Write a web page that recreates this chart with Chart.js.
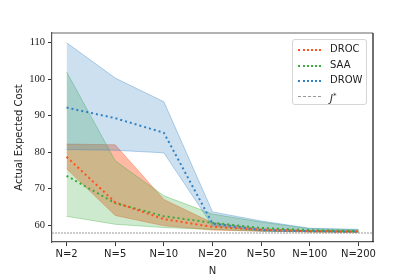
<!DOCTYPE html>
<html>
<head>
<meta charset="utf-8">
<script src="https://cdn.jsdelivr.net/npm/chart.js@4"></script>
<style>
  html, body { margin: 0; padding: 0; background: #fff; }
  #wrap { position: relative; width: 415px; height: 277px; }
  #legend {
    position: absolute; left: 292px; top: 39px; width: 75px; height: 66px;
    box-sizing: border-box; border: 1px solid #d6d6d6; border-radius: 3px;
    background: rgba(255,255,255,0.85);
    font-family: "DejaVu Sans", sans-serif; font-size: 10px; color: #222;
  }
  .row { position: absolute; left: 0; height: 12px; line-height: 12px; }
  .sample { position: absolute; left: 5px; top: 6px; width: 23px; height: 0; }
  .lbl { position: absolute; left: 37px; top: 0; white-space: nowrap; }
</style>
</head>
<body>
<div id="wrap">
  <canvas id="chart" width="415" height="277"></canvas>
  <div id="legend"></div>
</div>
<script>
const labels = ['N=2', 'N=5', 'N=10', 'N=20', 'N=50', 'N=100', 'N=200'];
const yTicks = [60, 70, 80, 90, 100, 110];

const drocMean  = [78.7, 66.2, 61.6, 59.5, 58.7, 58.3, 58.2];
const drocUpper = [82.2, 82.0, 67.0, 60.6, 59.0, 58.5, 58.3];
const drocLower = [75.4, 62.6, 59.8, 58.6, 58.3, 58.1, 58.0];

const saaMean  = [73.5, 66.0, 62.4, 60.6, 59.2, 58.6, 58.3];
const saaUpper = [102.0, 77.6, 68.0, 63.0, 60.8, 59.0, 58.7];
const saaLower = [62.4, 60.2, 59.3, 58.8, 58.3, 58.1, 58.0];

const drowMean  = [92.2, 89.3, 85.3, 60.4, 58.6, 58.3, 58.2];
const drowUpper = [110.0, 100.3, 93.8, 63.6, 61.1, 59.1, 58.8];
const drowLower = [80.7, 80.5, 79.8, 59.8, 58.4, 58.2, 58.1];

const jStar = 57.8;

const C_DROC = '255,80,30';
const C_SAA = '60,170,60';
const C_DROW = '50,130,195';

function pts(arr) { return arr.map((v, i) => ({ x: i, y: v })); }

// upper edge + lower edge filled back to it; higher order = drawn further below
function band(upper, lower, rgb, alpha, order) {
    return [
        { data: pts(upper), borderColor: `rgba(${rgb},0.45)`, borderWidth: 0.8, pointRadius: 0,
          fill: false, tension: 0, order: order },
        { data: pts(lower), borderColor: `rgba(${rgb},0.45)`, borderWidth: 0.8, pointRadius: 0,
          fill: '-1', backgroundColor: `rgba(${rgb},${alpha})`, tension: 0, order: order }
    ];
}

function meanLine(arr, rgb) {
    return { data: pts(arr), borderColor: `rgb(${rgb})`, borderWidth: 2, borderDash: [2, 3],
             pointRadius: 0, fill: false, tension: 0, order: 0 };
}

const legendItems = [
    { name: 'DROC', color: `rgb(${C_DROC})`, style: 'dotted', w: 2 },
    { name: 'SAA', color: `rgb(${C_SAA})`, style: 'dotted', w: 2 },
    { name: 'DROW', color: `rgb(${C_DROW})`, style: 'dotted', w: 2 },
    { name: '<i>J</i><sup style="font-size:7px">*</sup>', color: '#999', style: 'dashed', w: 1 }
];

// plugin: J* reference line + top/right spines
const extras = {
    id: 'extras',
    beforeDatasetsDraw(chart) {
        const { ctx, chartArea: a, scales } = chart;
        const y = scales.y.getPixelForValue(jStar);
        ctx.save();
        ctx.strokeStyle = '#9a9a9a';
        ctx.lineWidth = 1;
        ctx.setLineDash([2, 1]);
        ctx.beginPath();
        ctx.moveTo(a.left, y);
        ctx.lineTo(a.right, y);
        ctx.stroke();
        ctx.restore();
    },
    afterDraw(chart) {
        const { ctx, chartArea: a } = chart;
        ctx.save();
        ctx.lineWidth = 1.2;
        ctx.strokeStyle = '#666';
        ctx.beginPath();
        ctx.moveTo(a.left, a.top);
        ctx.lineTo(a.right, a.top);
        ctx.stroke();
        ctx.strokeStyle = '#111';
        ctx.beginPath();
        ctx.moveTo(a.right, a.top);
        ctx.lineTo(a.right, a.bottom);
        ctx.stroke();
        ctx.restore();
    }
};

document.addEventListener('DOMContentLoaded', function () {
    const legend = document.getElementById('legend');
    legendItems.forEach((it, i) => {
        const row = document.createElement('div');
        row.className = 'row';
        row.style.top = (3 + i * 15.7) + 'px';
        row.style.width = '100%';
        row.innerHTML = `<div class="sample" style="border-top:${it.w}px ${it.style} ${it.color}"></div><div class="lbl">${it.name}</div>`;
        legend.appendChild(row);
    });

    const ctx = document.getElementById('chart').getContext('2d');
    new Chart(ctx, {
        type: 'line',
        data: {
            datasets: [
                ...band(drocUpper, drocLower, C_DROC, 0.4, 3),
                ...band(saaUpper, saaLower, C_SAA, 0.25, 2),
                ...band(drowUpper, drowLower, C_DROW, 0.25, 1),
                meanLine(drocMean, C_DROC),
                meanLine(saaMean, C_SAA),
                meanLine(drowMean, C_DROW)
            ]
        },
        options: {
            responsive: false,
            animation: false,
            layout: { padding: { top: 33, right: 42, left: 0, bottom: 0 } },
            plugins: { legend: { display: false }, tooltip: { enabled: false } },
            scales: {
                x: {
                    type: 'linear',
                    min: -0.3,
                    max: labels.length - 1 + 0.3,
                    afterBuildTicks: s => { s.ticks = labels.map((_, i) => ({ value: i })); },
                    afterFit: s => { s.height = 35; },
                    ticks: {
                        callback: v => labels[v],
                        color: '#222',
                        font: { family: 'DejaVu Sans', size: 10 },
                        padding: 2,
                        maxRotation: 0
                    },
                    grid: { drawOnChartArea: false, drawTicks: true, tickLength: 4, color: '#333' },
                    border: { color: '#555', width: 1.2 },
                    title: { display: true, text: 'N', color: '#222',
                             font: { family: 'DejaVu Sans', size: 10 }, padding: { top: 0, bottom: 0 } }
                },
                y: {
                    min: 55.34,
                    max: 112.66,
                    afterBuildTicks: s => { s.ticks = yTicks.map(v => ({ value: v })); },
                    afterFit: s => { s.width = 52; },
                    ticks: {
                        color: '#222',
                        font: { family: 'Liberation Serif', size: 10.5 },
                        padding: 3
                    },
                    grid: { drawOnChartArea: false, drawTicks: true, tickLength: 4, color: '#333' },
                    border: { color: '#555', width: 1.2 },
                    title: { display: true, text: 'Actual Expected Cost', color: '#222',
                             font: { family: 'DejaVu Sans', size: 10 }, padding: { top: 13, bottom: 0 } }
                }
            }
        },
        plugins: [extras]
    });
});
</script>
</body>
</html>
